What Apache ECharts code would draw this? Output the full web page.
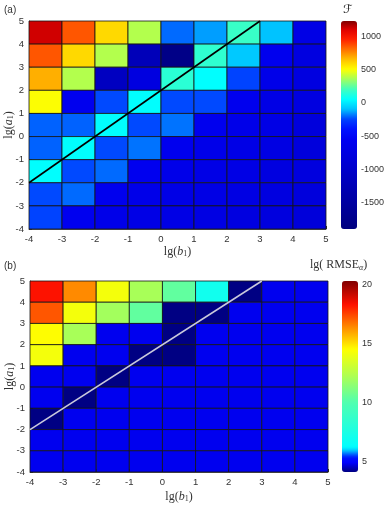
<!DOCTYPE html>
<html lang="en">
<head>
<meta charset="UTF-8">
<title></title>
<style>html,body{margin:0;padding:0;background:#fff;}</style>
</head>
<body>
<div id="container" style="width:386px;height:509px;"></div>
<script src="https://cdn.jsdelivr.net/npm/echarts@6/dist/echarts.min.js"></script>
<script>
// left edge of each cell column (lg b1) and bottom edge of each row (lg a1), rows from the top
var bEdges = [-4, -3, -2, -1, 0, 1, 2, 3, 4];
var aEdges = [4, 3, 2, 1, 0, -1, -2, -3, -4];

// panel (a): F
var valuesF = [
  [1120, 850, 590, 380, -200, -140, 180, -90, -700],
  [850, 590, 380, -1200, -1800, 160, -80, -600, -750],
  [680, 380, -1100, -750, 150, 50, -250, -650, -750],
  [500, -600, -240, 50, -240, -240, -600, -700, -750],
  [-210, -210, 50, -240, -190, -600, -650, -700, -800],
  [-210, 50, -240, -190, -600, -650, -680, -720, -800],
  [50, -240, -200, -580, -650, -680, -700, -750, -780],
  [-240, -200, -600, -650, -680, -700, -720, -750, -800],
  [-250, -580, -650, -680, -700, -720, -750, -780, -820]
];

// panel (b): lg(RMSE_alpha)
var valuesRMSE = [
  [18.3, 16.4, 14.2, 12.1, 10.4, 7.0, 4.12, 4.8, 4.8],
  [17.2, 14.2, 12.0, 10.4, 4.12, 4.12, 4.8, 4.8, 4.8],
  [14.5, 12.1, 4.8, 4.8, 4.12, 4.8, 4.8, 4.8, 4.8],
  [14.2, 4.8, 4.8, 4.12, 4.12, 4.8, 4.8, 4.8, 4.8],
  [4.8, 4.8, 4.12, 4.8, 4.8, 4.8, 4.8, 4.8, 4.8],
  [4.8, 4.12, 4.8, 4.8, 4.8, 4.8, 4.8, 4.8, 4.8],
  [4.12, 4.8, 4.8, 4.8, 4.8, 4.8, 4.8, 4.8, 4.8],
  [4.8, 4.8, 4.8, 4.8, 4.8, 4.8, 4.8, 4.8, 4.8],
  [4.8, 4.8, 4.8, 4.8, 4.8, 4.8, 4.8, 4.8, 4.8]
];

// diagonal lg(a1) = lg(b1) + 2
var diagB = [-4, 3];
var diagA = [-2, 5];

// colour bar ranges
var rangeF = [-1890, 1225];
var rangeRMSE = [4.1, 20.3];

// colormap stops [value, colour]
var mapF = [
  [-1890, '#00007f'], [-1000, '#0000ca'], [-550, '#0000f2'], [-400, '#0010ff'],
  [-250, '#0040ff'], [-100, '#00c0ff'], [50, '#00ffff'], [200, '#40ffbf'],
  [350, '#a0ff60'], [500, '#ffff00'], [650, '#ffbf00'], [800, '#ff7000'],
  [950, '#ff2000'], [1100, '#df0000'], [1225, '#800000']
];
var mapRMSE = [
  [4.1, '#000080'], [4.5, '#0000c0'], [4.9, '#0000ff'], [5.3, '#0010ff'],
  [5.6, '#0060ff'], [5.9, '#00c0ff'], [6.2, '#00ffff'], [10, '#50ffb0'],
  [12.3, '#b0ff50'], [14.5, '#ffff00'], [16.3, '#ff9000'], [18.3, '#ff1000'],
  [20.3, '#800000']
];

function hexRgb(h) {
  return [parseInt(h.substr(1, 2), 16), parseInt(h.substr(3, 2), 16), parseInt(h.substr(5, 2), 16)];
}
// resample the stops to evenly spaced colours for visualMap
function sampleMap(stops, n) {
  var lo = stops[0][0], hi = stops[stops.length - 1][0];
  var out = [];
  for (var k = 0; k < n; k++) {
    var v = lo + (hi - lo) * k / (n - 1);
    var s = 0;
    while (s < stops.length - 2 && v > stops[s + 1][0]) s++;
    var t = (v - stops[s][0]) / (stops[s + 1][0] - stops[s][0]);
    t = Math.max(0, Math.min(1, t));
    var c0 = hexRgb(stops[s][1]), c1 = hexRgb(stops[s + 1][1]);
    var c = c0.map(function (x, i) { return Math.round(x + (c1[i] - x) * t); });
    out.push('rgb(' + c.join(',') + ')');
  }
  return out;
}

function cells(values) {
  var out = [];
  for (var i = 0; i < aEdges.length; i++) {
    for (var j = 0; j < bEdges.length; j++) {
      out.push([bEdges[j], aEdges[i], values[i][j]]);
    }
  }
  return out;
}

function renderCell(params, api) {
  var p0 = api.coord([api.value(0), api.value(1) + 1]);
  var p1 = api.coord([api.value(0) + 1, api.value(1)]);
  return {
    type: 'rect',
    shape: { x: p0[0], y: p0[1], width: p1[0] - p0[0], height: p1[1] - p0[1] },
    style: { fill: api.visual('color'), stroke: '#151515', lineWidth: 0.8 }
  };
}

var tickFont = { color: '#333', fontSize: 9.5, fontFamily: 'Liberation Sans, Arial, sans-serif' };
var nameStyle = {
  color: '#333', fontSize: 12, fontFamily: 'Liberation Serif, serif',
  rich: {
    i: { fontStyle: 'italic', fontSize: 12, fontFamily: 'Liberation Serif, serif', color: '#333' },
    s: { fontSize: 8, fontFamily: 'Liberation Serif, serif', color: '#333', verticalAlign: 'bottom', padding: [5, 0, 0, 0] }
  }
};

function plotX(idx, name, gap) {
  return {
    type: 'value', gridIndex: idx, min: -4, max: 5, interval: 1,
    name: name, nameLocation: 'middle', nameGap: gap, nameTextStyle: nameStyle,
    axisLine: { show: true, onZero: false, lineStyle: { color: '#333', width: 0.8 } },
    axisTick: { show: true, inside: true, length: 3, lineStyle: { color: '#333' } },
    axisLabel: Object.assign({ margin: 5 }, tickFont),
    splitLine: { show: false }
  };
}
function plotY(idx, name, gap) {
  var ax = plotX(idx, name, gap);
  ax.nameRotate = 90;
  ax.nameMoveOverlap = false;
  return ax;
}
function barAxis(idx, range, split) {
  return {
    type: 'value', gridIndex: idx, position: 'right', min: range[0], max: range[1], splitNumber: split,
    axisLine: { show: false, onZero: false },
    axisTick: { show: true, inside: true, length: 2, lineStyle: { color: '#333' } },
    axisLabel: Object.assign({
      margin: 4, showMinLabel: false, showMaxLabel: false,
      formatter: function (v) { return String(v); }
    }, tickFont, { fontSize: 9 }),
    splitLine: { show: false }
  };
}

var dom = document.getElementById('container');
var myChart = echarts.init(dom, null, { renderer: 'canvas' });

var option = {
  backgroundColor: '#fff',
  animation: false,
  grid: [
    { left: 29, top: 21, width: 297, height: 208, outerBoundsMode: 'none' },
    { left: 30, top: 281, width: 298, height: 191, outerBoundsMode: 'none' },
    { left: 341, top: 21, width: 16, height: 208, outerBoundsMode: 'none' },
    { left: 342, top: 281, width: 16, height: 191, outerBoundsMode: 'none' }
  ],
  xAxis: [
    plotX(0, 'lg({i|b}{s|1})', 16),
    plotX(1, 'lg({i|b}{s|1})', 18),
    { type: 'value', gridIndex: 2, show: false },
    { type: 'value', gridIndex: 3, show: false }
  ],
  yAxis: [
    plotY(0, 'lg({i|a}{s|1})', 14),
    plotY(1, 'lg({i|a}{s|1})', 14),
    barAxis(2, rangeF, 5),
    barAxis(3, rangeRMSE, 3)
  ],
  visualMap: [
    {
      type: 'continuous', seriesIndex: 0, dimension: 2,
      min: rangeF[0], max: rangeF[1], calculable: false, hoverLink: false,
      inRange: { color: sampleMap(mapF, 120) },
      left: 341, top: 21, itemWidth: 16, itemHeight: 208, padding: 0, text: null,
      textStyle: { fontSize: 0 }
    },
    {
      type: 'continuous', seriesIndex: 2, dimension: 2,
      min: rangeRMSE[0], max: rangeRMSE[1], calculable: false, hoverLink: false,
      inRange: { color: sampleMap(mapRMSE, 120) },
      left: 342, top: 281, itemWidth: 16, itemHeight: 191, padding: 0, text: null,
      textStyle: { fontSize: 0 }
    }
  ],
  series: [
    {
      type: 'custom', xAxisIndex: 0, yAxisIndex: 0,
      renderItem: renderCell, data: cells(valuesF), encode: { x: 0, y: 1 }
    },
    {
      type: 'line', xAxisIndex: 0, yAxisIndex: 0, z: 5,
      data: diagB.map(function (b, i) { return [b, diagA[i]]; }),
      showSymbol: false, lineStyle: { color: '#000', width: 1.6 }
    },
    {
      type: 'custom', xAxisIndex: 1, yAxisIndex: 1,
      renderItem: renderCell, data: cells(valuesRMSE), encode: { x: 0, y: 1 }
    },
    {
      type: 'line', xAxisIndex: 1, yAxisIndex: 1, z: 5,
      data: diagB.map(function (b, i) { return [b, diagA[i]]; }),
      showSymbol: false, lineStyle: { color: '#c9c9dc', width: 1.6 }
    }
  ],
  graphic: [
    { type: 'text', left: 4, top: 5, style: { text: '(a)', fill: '#333', font: '10px Liberation Sans, Arial, sans-serif' } },
    { type: 'text', left: 4, top: 261, style: { text: '(b)', fill: '#333', font: '10px Liberation Sans, Arial, sans-serif' } },
    { type: 'text', left: 343, top: 4, style: { text: '\u2131', fill: '#222', font: '12px DejaVu Sans, sans-serif' } },
    {
      type: 'text', left: 310, top: 259,
      style: {
        text: 'lg( RMSE{s|\u03b1})', fill: '#333', font: '12px Liberation Serif, serif',
        rich: { s: { fontSize: 8, fontStyle: 'italic', fontFamily: 'Liberation Serif, serif', fill: '#333', verticalAlign: 'bottom', padding: [5, 0, 0, 0] } }
      }
    }
  ]
};

myChart.setOption(option);
</script>
</body>
</html>
